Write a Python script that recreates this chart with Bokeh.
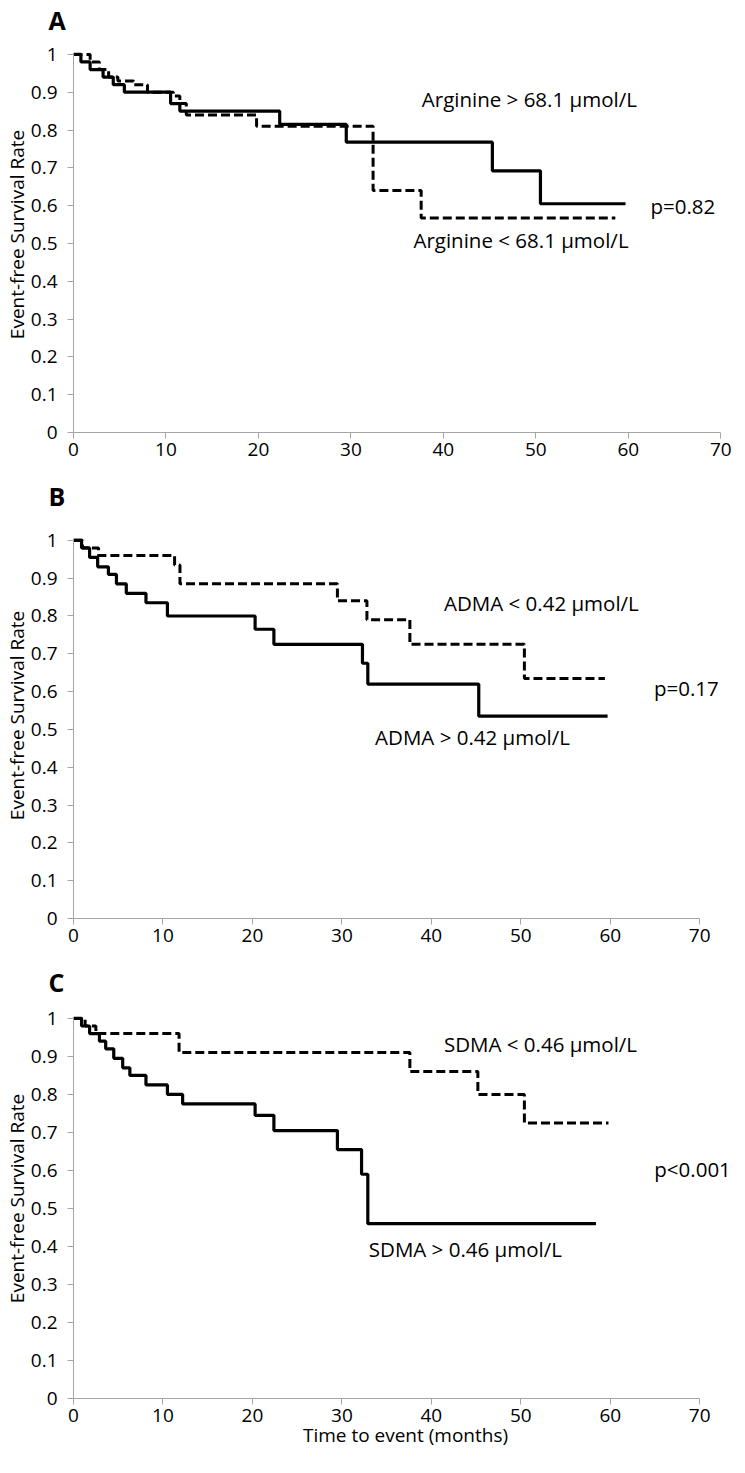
from bokeh.plotting import figure
from bokeh.layouts import column
from bokeh.models import Range1d, FixedTicker, Label, Title
from bokeh.embed import file_html
from bokeh.resources import INLINE

FONT = "Open Sans"

# ---------------- data ----------------
x_ticks = [0, 10, 20, 30, 40, 50, 60, 70]
y_ticks = [0, 0.1, 0.2, 0.3, 0.4, 0.5, 0.6, 0.7, 0.8, 0.9, 1.0]
y_tick_labels = ["0", "0.1", "0.2", "0.3", "0.4", "0.5", "0.6", "0.7", "0.8", "0.9", "1"]

# Panel A: Arginine
arg_hi_t = [0, 0.8, 1.8, 3.2, 4.3, 5.5, 10.5, 11.5, 22.3, 29.5, 45.3, 50.5, 59.7]
arg_hi_s = [1.0, 0.98, 0.96, 0.94, 0.92, 0.90, 0.87, 0.85, 0.815, 0.768, 0.692, 0.605, 0.605]
arg_lo_t = [0, 1.8, 2.8, 3.8, 4.8, 6.5, 8.0, 10.8, 11.5, 12.2, 19.8, 32.4, 37.6, 58.6]
arg_lo_s = [1.0, 0.98, 0.96, 0.94, 0.93, 0.92, 0.90, 0.89, 0.87, 0.84, 0.81, 0.64, 0.567, 0.567]

# Panel B: ADMA
adma_hi_t = [0, 0.9, 1.8, 2.7, 3.9, 4.8, 5.9, 8.1, 10.5, 20.3, 22.4, 32.3, 32.9, 45.3, 59.7]
adma_hi_s = [1.0, 0.98, 0.955, 0.93, 0.91, 0.885, 0.86, 0.835, 0.80, 0.765, 0.725, 0.675, 0.62, 0.535, 0.535]
adma_lo_t = [0, 1.0, 2.8, 11.3, 11.9, 29.5, 32.8, 37.6, 50.4, 59.4]
adma_lo_s = [1.0, 0.98, 0.96, 0.935, 0.885, 0.84, 0.79, 0.725, 0.635, 0.635]

# Panel C: SDMA
sdma_hi_t = [0, 0.9, 1.8, 2.9, 3.6, 4.5, 5.5, 6.3, 8.1, 10.5, 12.2, 20.3, 22.4, 29.5, 32.2, 32.9, 58.4]
sdma_hi_s = [1.0, 0.98, 0.96, 0.94, 0.92, 0.895, 0.87, 0.85, 0.825, 0.80, 0.775, 0.745, 0.705, 0.655, 0.59, 0.46, 0.46]
sdma_lo_t = [0, 1.3, 2.5, 11.8, 37.6, 45.2, 50.4, 59.8]
sdma_lo_s = [1.0, 0.98, 0.96, 0.91, 0.86, 0.80, 0.725, 0.725]

AXIS_GRAY = "#A6A6A6"


def panel(height, b_bottom, b_left, x_end, y_end, letter,
          solid, dashed, labels, xtitle=False):
    title = Title(text=letter, align="left", offset=-25, standoff=0,
                  text_font=FONT, text_font_style="bold",
                  text_font_size="25px", text_color="black")
    p = figure(width=737, height=height, title=title,
               x_range=Range1d(0, x_end), y_range=Range1d(0, y_end),
               output_backend="svg", toolbar_location=None,
               min_border_top=34, min_border_bottom=b_bottom,
               min_border_left=b_left, min_border_right=0)
    p.outline_line_color = None
    p.xgrid.visible = False
    p.ygrid.visible = False

    for ax in (p.xaxis[0], p.yaxis[0]):
        ax.axis_line_color = AXIS_GRAY
        ax.axis_line_width = 1
        ax.major_tick_line_color = AXIS_GRAY
        ax.major_tick_in = 0
        ax.major_tick_out = 6
        ax.minor_tick_line_color = None
        ax.major_label_text_font = FONT
        ax.major_label_text_font_size = "19px"
        ax.major_label_text_color = "black"
        ax.axis_label_text_font = FONT
        ax.axis_label_text_font_size = "19px"
        ax.axis_label_text_font_style = "normal"
        ax.axis_label_text_color = "black"
    p.xaxis.bounds = (0, 70)
    p.xaxis.ticker = FixedTicker(ticks=x_ticks)
    p.xaxis.major_label_standoff = 4
    p.yaxis.bounds = (0, 1)
    p.yaxis.ticker = FixedTicker(ticks=y_ticks)
    p.yaxis.major_label_overrides = {t: s for t, s in zip(y_ticks, y_tick_labels)}
    p.yaxis.major_label_standoff = 10
    p.yaxis.axis_label = "Event-free Survival Rate"
    p.yaxis.axis_label_standoff = -2
    if xtitle:
        p.xaxis.axis_label = "Time to event (months)"
        p.xaxis.axis_label_standoff = -3

    p.step(dashed[0], dashed[1], mode="after", line_color="black",
           line_width=3, line_dash="9 4")
    p.step(solid[0], solid[1], mode="after", line_color="black", line_width=3.2)

    for (tx, ty, txt) in labels:
        p.add_layout(Label(x=tx, y=ty, text=txt, text_font=FONT,
                           text_font_size="20.5px", text_align="center",
                           text_baseline="middle", text_color="black"))
    return p


pA = panel(476, 44, 67, 670 / 9.33, 398 / 380, "A",
           (arg_hi_t, arg_hi_s), (arg_lo_t, arg_lo_s),
           [(49.3, 0.882, "Arginine > 68.1 \u00b5mol/L"),
            (48.4, 0.51, "Arginine < 68.1 \u00b5mol/L"),
            (65.9, 0.60, "p=0.82")])

pB = panel(486, 44, 69, 668 / 9.0, 408 / 380, "B",
           (adma_hi_t, adma_hi_s), (adma_lo_t, adma_lo_s),
           [(52.3, 0.834, "ADMA < 0.42 \u00b5mol/L"),
            (44.6, 0.48, "ADMA > 0.42 \u00b5mol/L"),
            (68.5, 0.61, "p=0.17")])

pC = panel(495, 59, 69, 668 / 9.0, 402 / 382, "C",
           (sdma_hi_t, sdma_hi_s), (sdma_lo_t, sdma_lo_s),
           [(52.2, 0.932, "SDMA < 0.46 \u00b5mol/L"),
            (43.8, 0.393, "SDMA > 0.46 \u00b5mol/L"),
            (69.2, 0.605, "p<0.001")], xtitle=True)

layout = column(pA, pB, pC)
open("out.html", "w").write(file_html(layout, INLINE))
